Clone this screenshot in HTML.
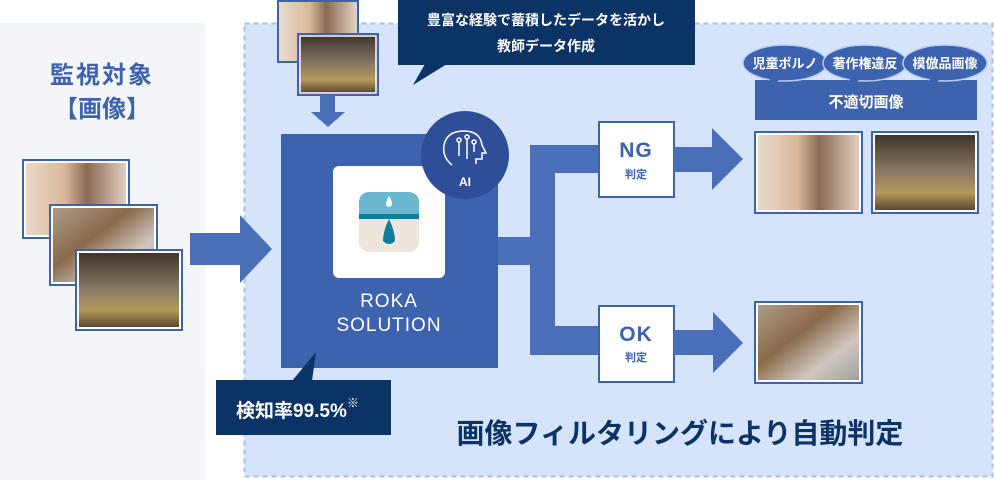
<!DOCTYPE html>
<html><head><meta charset="utf-8"><style>
body{margin:0;background:#fff}
svg text{font-family:"Liberation Sans","Noto Sans CJK JP",sans-serif;font-weight:bold}
</style></head><body>
<svg width="995" height="480" viewBox="0 0 995 480" xmlns="http://www.w3.org/2000/svg">
<defs>
<linearGradient id="g1" x1="0" x2="1"><stop offset="0" stop-color="#eadcd0"/><stop offset="0.4" stop-color="#d9b79a"/><stop offset="0.6" stop-color="#8a6a55"/><stop offset="1" stop-color="#e9d6c8"/></linearGradient>
<linearGradient id="g2" x1="0" y1="0" x2="0" y2="1"><stop offset="0" stop-color="#3a3028"/><stop offset="0.5" stop-color="#8a7a66"/><stop offset="0.75" stop-color="#b49a5a"/><stop offset="1" stop-color="#4a3a28"/></linearGradient>
<linearGradient id="g3" x1="0" y1="0" x2="1" y2="1"><stop offset="0" stop-color="#b0a090"/><stop offset="0.4" stop-color="#8a6a4a"/><stop offset="0.7" stop-color="#d0c8c0"/><stop offset="1" stop-color="#9a9a9a"/></linearGradient>
</defs>
<rect x="0" y="23" width="205" height="457" fill="#f3f5f9"/>
<rect x="244.5" y="23.5" width="748" height="453" fill="#d6e4fb" stroke="#a9c0e8" stroke-width="2" stroke-dasharray="5,4"/>
<text x="102" y="83" font-size="24" fill="#3d62ae" text-anchor="middle" letter-spacing="2">監視対象</text>
<text x="102" y="117" font-size="24" fill="#3d62ae" text-anchor="middle">【画像】</text>
<rect x="23" y="160" width="106" height="78" fill="url(#g1)" stroke="#3d62ae" stroke-width="2" /><rect x="25" y="162" width="102" height="74" fill="none" stroke="#fff" stroke-width="2"/>
<rect x="50" y="205" width="107" height="80" fill="url(#g3)" stroke="#3d62ae" stroke-width="2"/><rect x="52" y="207" width="103" height="76" fill="none" stroke="#fff" stroke-width="2"/>
<rect x="76" y="250" width="106" height="80" fill="url(#g2)" stroke="#3d62ae" stroke-width="2"/><rect x="78" y="252" width="102" height="76" fill="none" stroke="#fff" stroke-width="2"/>
<polygon points="190,233 240,233 240,215 272,249 240,283 240,265 190,265" fill="#4a6fb8"/>
<rect x="278" y="1" width="80" height="61" fill="url(#g1)" stroke="#3d62ae" stroke-width="2"/>
<rect x="298" y="34" width="80" height="61" fill="url(#g2)" stroke="#3d62ae" stroke-width="2"/><rect x="300" y="36" width="76" height="57" fill="none" stroke="#fff" stroke-width="1.5"/>
<polygon points="320,95 335,95 335,112 345,112 328,127 311,112 320,112" fill="#4a6fb8"/>
<rect x="398" y="0" width="297" height="65" fill="#0b3366"/>
<polygon points="425,64 447,64 413,85" fill="#0b3366"/>
<text x="546" y="25" font-size="14" fill="#fff" text-anchor="middle">豊富な経験で蓄積したデータを活かし</text>
<text x="546" y="51" font-size="14" fill="#fff" text-anchor="middle">教師データ作成</text>
<rect x="495" y="237" width="40" height="28" fill="#4a6fb8"/>
<rect x="530" y="145" width="25" height="210" fill="#4a6fb8"/>
<rect x="530" y="145" width="70" height="28" fill="#4a6fb8"/>
<rect x="530" y="326" width="70" height="29" fill="#4a6fb8"/>
<rect x="281" y="134" width="217" height="234" fill="#3d62ae"/>
<rect x="333" y="166" width="112" height="112" rx="6" fill="#fff"/>
<rect x="359" y="192" width="60" height="60" rx="10" fill="#ede6dc"/>
<path d="M359,202 a10,10 0 0 1 10,-10 h40 a10,10 0 0 1 10,10 v12 h-60z" fill="#6ab8cf"/>
<rect x="359" y="214" width="60" height="5" fill="#0e7e9a"/>
<path d="M389,219 q-6,12 -6,22 q6,6 12,0 q0,-10 -6,-22z" fill="#0e7e9a"/>
<path d="M389,196 q-3,5 -3,8 a3,3 0 0 0 6,0 q0,-3 -3,-8z" fill="#fff"/>
<text x="389" y="307" font-size="19" fill="#fff" text-anchor="middle" style="font-weight:normal" letter-spacing="1">ROKA</text>
<text x="389" y="331" font-size="19" fill="#fff" text-anchor="middle" style="font-weight:normal" letter-spacing="1">SOLUTION</text>
<circle cx="465" cy="155" r="44" fill="#2e4e97"/>
<g fill="none" stroke="#fff" stroke-width="1.5"><path d="M452,165 q-10,-8 -8,-20 q3,-14 20,-14 q16,0 18,14 l4,8 h-4 v6 h-6 v5"/><circle cx="459" cy="140" r="2"/><circle cx="467" cy="137" r="2"/><circle cx="474" cy="142" r="2"/><path d="M459,142 v14 M467,139 v20 M474,144 v8"/></g>
<text x="465" y="186" font-size="12" fill="#fff" text-anchor="middle">AI</text>
<rect x="216" y="380" width="175" height="55" fill="#0b3366"/>
<polygon points="292,381 312,381 316,352" fill="#0b3366"/>
<text x="236" y="417" font-size="19" fill="#fff">検知率99.5%<tspan font-size="12" dy="-10">※</tspan></text>
<rect x="599" y="122" width="75" height="75" fill="#fff" stroke="#3d62ae" stroke-width="2"/>
<text x="636" y="157" font-size="21" fill="#3d62ae" text-anchor="middle" letter-spacing="1">NG</text>
<text x="636" y="178" font-size="11" fill="#3d62ae" text-anchor="middle">判定</text>
<polygon points="674,147 712,147 712,128 743,159 712,190 712,172 674,172" fill="#4a6fb8"/>
<rect x="599" y="306" width="75" height="76" fill="#fff" stroke="#3d62ae" stroke-width="2"/>
<text x="636" y="341" font-size="21" fill="#3d62ae" text-anchor="middle" letter-spacing="1">OK</text>
<text x="636" y="361" font-size="11" fill="#3d62ae" text-anchor="middle">判定</text>
<polygon points="674,330 713,330 713,312 743,343 713,373 713,355 674,355" fill="#4a6fb8"/>
<rect x="755" y="132" width="107" height="81" fill="url(#g1)" stroke="#3d62ae" stroke-width="2"/><rect x="757" y="134" width="103" height="77" fill="none" stroke="#fff" stroke-width="2"/>
<rect x="872" y="132" width="106" height="81" fill="url(#g2)" stroke="#3d62ae" stroke-width="2"/><rect x="874" y="134" width="102" height="77" fill="none" stroke="#fff" stroke-width="2"/>
<rect x="755" y="302" width="107" height="81" fill="url(#g3)" stroke="#3d62ae" stroke-width="2"/><rect x="757" y="304" width="103" height="77" fill="none" stroke="#fff" stroke-width="2"/>
<rect x="755" y="80" width="222" height="40" fill="#3d62ae"/>
<text x="866" y="107" font-size="15" fill="#fff" text-anchor="middle">不適切画像</text>
<g fill="#3d62ae" stroke="#b8cdf0" stroke-width="1.5">
<ellipse cx="785" cy="63" rx="42" ry="18"/><polygon points="770,78 782,78 768,88" stroke="none"/>
<ellipse cx="865" cy="63" rx="42" ry="18"/><polygon points="850,78 862,78 848,88" stroke="none"/>
<ellipse cx="945" cy="63" rx="42" ry="18"/><polygon points="930,78 942,78 928,88" stroke="none"/>
</g>
<text x="785" y="68" font-size="13" fill="#fff" text-anchor="middle">児童ポルノ</text>
<text x="865" y="68" font-size="13" fill="#fff" text-anchor="middle">著作権違反</text>
<text x="945" y="68" font-size="13" fill="#fff" text-anchor="middle">模倣品画像</text>
<text x="680" y="443" font-size="28" fill="#0b3366" text-anchor="middle">画像フィルタリングにより自動判定</text>
</svg>
</body></html>
